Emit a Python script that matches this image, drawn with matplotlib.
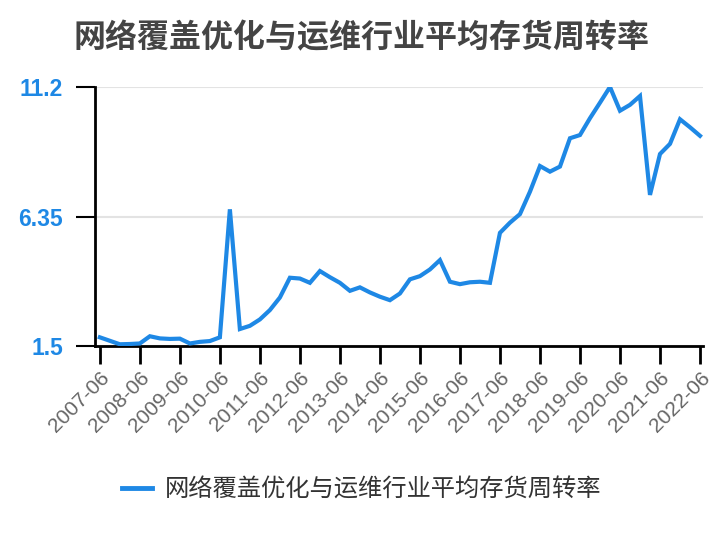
import matplotlib
matplotlib.use("Agg")
import matplotlib.pyplot as plt
import pandas as pd

title = "网络覆盖优化与运维行业平均存货周转率"

# quarterly periods, 2007-06 .. 2022-06
quarters = [p.strftime("%Y-%m") for p in pd.period_range("2007-06", "2022-06", freq="3M")]

turnover = [
    1.83, 1.70, 1.57,
    1.58, 1.60, 1.87, 1.79,
    1.77, 1.78, 1.60, 1.66,
    1.69, 1.83, 6.62, 2.14,
    2.26, 2.50, 2.85, 3.32,
    4.06, 4.03, 3.87, 4.31,
    4.08, 3.87, 3.57, 3.70,
    3.51, 3.35, 3.22, 3.47,
    4.00, 4.12, 4.37, 4.72,
    3.91, 3.82, 3.89, 3.91,
    3.87, 5.74, 6.12, 6.44,
    7.28, 8.24, 8.03, 8.22,
    9.28, 9.40, 10.03, 10.61,
    11.20, 10.31, 10.53, 10.86,
    7.16, 8.69, 9.07, 9.99,
    9.69, 9.37,
]

y_ticks = [1.5, 6.35, 11.2]
x_tick_labels = [f"{y}-06" for y in range(2007, 2023)]

blue = "#1E88E5"
cjk = ["Noto Sans CJK SC", "DejaVu Sans"]

fig = plt.figure(figsize=(7.24, 5.4), dpi=100)
ax = fig.add_axes([0.131, 0.359, 0.840, 0.480])

xs = list(range(len(turnover)))
ax.plot(xs, turnover, color=blue, lw=3.0, solid_joinstyle="miter",
        label=title, zorder=3)

ax.set_xlim(-0.5, 60.3)
ax.set_ylim(1.5, 11.2)

ax.set_yticks(y_ticks)
ax.set_yticklabels(["1.5", "6.35", "11.2"])
tick_pos = [quarters.index(lbl) for lbl in x_tick_labels]
ax.set_xticks(tick_pos)
ax.set_xticklabels(x_tick_labels, rotation=45, ha="right", rotation_mode="anchor")

ax.grid(axis="y", color="#e3e3e3", lw=1.5, zorder=0)
for s in ["top", "right"]:
    ax.spines[s].set_visible(False)
for s in ["left", "bottom"]:
    ax.spines[s].set_linewidth(2)
    ax.spines[s].set_color("black")

ax.tick_params(axis="y", length=14, width=1.5, pad=9, labelcolor=blue, labelsize=16.5)
ax.tick_params(axis="x", length=13, width=2, pad=3, labelcolor="#666666", labelsize=15)
for t in ax.get_yticklabels():
    t.set_fontfamily("Liberation Sans")
    t.set_fontweight("bold")
for t in ax.get_xticklabels():
    t.set_fontfamily("Liberation Sans")

fig.text(0.5, 0.93, title, ha="center", va="center", fontsize=23,
         fontweight="bold", color="#444444", family=cjk)

leg = fig.legend(loc="center", bbox_to_anchor=(0.5, 0.093), frameon=False,
                 prop={"family": cjk, "size": 17.5}, handlelength=1.2,
                 handletextpad=0.55)
for t in leg.get_texts():
    t.set_color("#333333")
for h in leg.get_lines():
    h.set_linewidth(3.5)

fig.savefig("out.png", dpi=100)
